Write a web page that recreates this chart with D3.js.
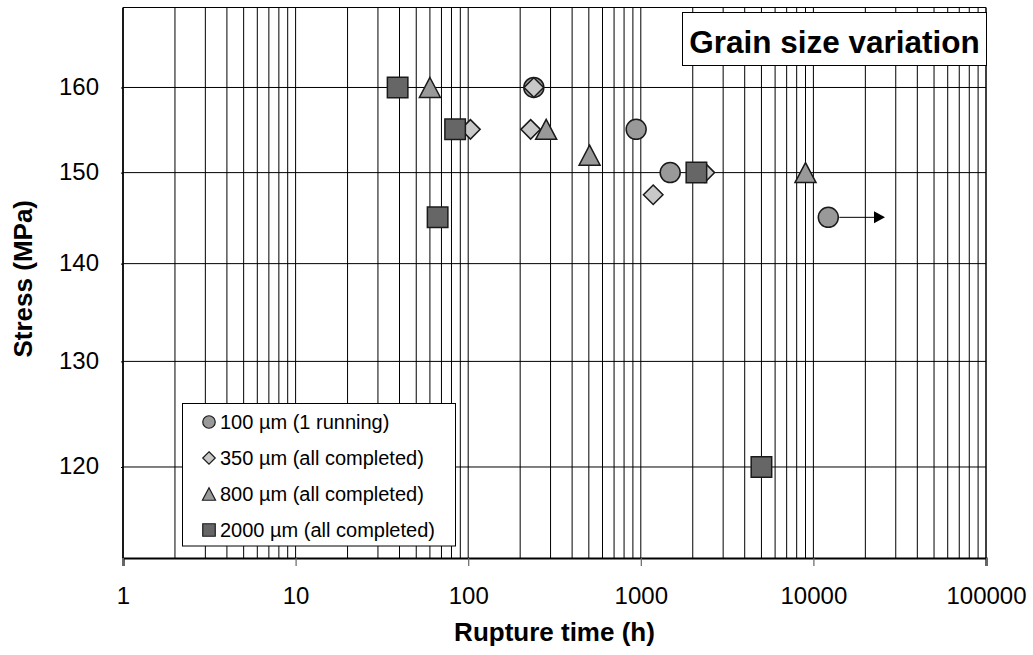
<!DOCTYPE html>
<html>
<head>
<meta charset="utf-8">
<script src="https://cdn.jsdelivr.net/npm/d3@7"></script>
<style>
  body { margin: 0; background: #fff; }
  svg { display: block; }
  text { font-family: "Liberation Sans", Arial, sans-serif; fill: #000; }
</style>
</head>
<body>
<svg id="chart" width="1033" height="655"></svg>
<script>
// Creep rupture data: stress (MPa) vs. rupture time (h) by grain size
const seriesLabels = [
  "100 µm (1 running)",
  "350 µm (all completed)",
  "800 µm (all completed)",
  "2000 µm (all completed)"
];

const rupture100 = [240, 940, 1480, 12200];
const stress100  = [160, 155, 150, 145];

const rupture350 = [240, 103, 230, 1180, 2350];
const stress350  = [160, 155, 155, 147.5, 150];

const rupture800 = [60, 283, 505, 9000];
const stress800  = [160, 155, 152, 150];

const rupture2000 = [39, 84, 66.5, 2100, 5000];
const stress2000  = [160, 155, 145, 150, 120];

// the 100 µm test still running at 145 MPa
const runningTest = { from: 12200, to: 26000, stress: 145 };

const xTickValues = [1, 10, 100, 1000, 10000, 100000];
const yTickValues = [120, 130, 140, 150, 160];

const titleText = "Grain size variation";
const xTitle = "Rupture time (h)";
const yTitle = "Stress (MPa)";

// ---------------------------------------------------------------
const svg = d3.select("#chart");
const plot = { left: 123, right: 986, top: 7.5, bottom: 558 };

const x = d3.scaleLog().domain([1, 100000]).range([plot.left, plot.right]);
const y = d3.scaleLog().domain([112, 170]).range([plot.bottom, plot.top]);

// vertical grid: every 1..9 × decade
const xGrid = [];
for (let d = 1; d < 100000; d *= 10) {
  for (let m = 1; m <= 9; m++) if (!(d === 1 && m === 1)) xGrid.push(d * m);
}
svg.append("g").selectAll("line").data(xGrid).join("line")
  .attr("x1", d => x(d)).attr("x2", d => x(d))
  .attr("y1", plot.top).attr("y2", plot.bottom)
  .attr("stroke", "#000").attr("stroke-width", 1);

// horizontal grid
svg.append("g").selectAll("line").data(yTickValues).join("line")
  .attr("x1", plot.left).attr("x2", plot.right)
  .attr("y1", d => y(d)).attr("y2", d => y(d))
  .attr("stroke", "#000").attr("stroke-width", 1);

// frame
svg.append("line").attr("x1", plot.left).attr("x2", plot.right)
  .attr("y1", plot.top).attr("y2", plot.top).attr("stroke", "#000").attr("stroke-width", 1);
svg.append("line").attr("x1", plot.right).attr("x2", plot.right)
  .attr("y1", plot.top).attr("y2", plot.bottom).attr("stroke", "#000").attr("stroke-width", 1.5);
svg.append("line").attr("x1", plot.left).attr("x2", plot.left)
  .attr("y1", plot.top).attr("y2", plot.bottom).attr("stroke", "#000").attr("stroke-width", 1.8);

// x axis
const xAxis = d3.axisBottom(x).tickValues(xTickValues)
  .tickFormat(d3.format("d")).tickSize(8).tickPadding(22);
const gx = svg.append("g").attr("transform", `translate(0,${plot.bottom})`).call(xAxis);
gx.select(".domain").attr("stroke", "#000").attr("stroke-width", 2.2);
gx.selectAll(".tick line").attr("stroke", "#666").attr("stroke-width", 1.2);
gx.selectAll(".tick text").attr("font-size", 24).attr("font-family", "Liberation Sans, Arial, sans-serif")
  .attr("fill", "#000").attr("dy", 0).attr("y", 46);

// y axis labels
const yAxis = d3.axisLeft(y).tickValues(yTickValues)
  .tickFormat(d3.format("d")).tickSize(2).tickPadding(22);
const gy = svg.append("g").attr("transform", `translate(${plot.left},0)`).call(yAxis);
gy.select(".domain").remove();
gy.selectAll(".tick line").attr("stroke", "#000");
gy.selectAll(".tick text").attr("font-size", 24).attr("font-family", "Liberation Sans, Arial, sans-serif")
  .attr("fill", "#000").attr("dy", 7).attr("x", -24);

// axis titles
svg.append("text").attr("x", (plot.left + plot.right) / 2).attr("y", 641)
  .attr("text-anchor", "middle").attr("font-size", 26).attr("font-weight", "bold").text(xTitle);
svg.append("text").attr("transform", `translate(32,${(plot.top + plot.bottom) / 2 - 4}) rotate(-90)`)
  .attr("text-anchor", "middle").attr("font-size", 26).attr("font-weight", "bold").text(yTitle);

// marker shapes
const shapes = {
  circle: s => { const r = s / 2; return `M${-r},0A${r},${r} 0 1,0 ${r},0A${r},${r} 0 1,0 ${-r},0Z`; },
  diamond: s => { const h = s / 2; return `M0,${-h}L${h},0L0,${h}L${-h},0Z`; },
  triangle: s => { const h = s / 2; return `M0,${-h}L${h * 1.05},${h}L${-h * 1.05},${h}Z`; },
  square: s => { const h = s / 2; return `M${-h},${-h}H${h}V${h}H${-h}Z`; }
};

const seriesDefs = [
  { times: rupture100,  stress: stress100,  shape: "circle",   fill: "#999999", size: 20 },
  { times: rupture350,  stress: stress350,  shape: "diamond",  fill: "#c8c8c8", size: 19.5 },
  { times: rupture800,  stress: stress800,  shape: "triangle", fill: "#999999", size: 20 },
  { times: rupture2000, stress: stress2000, shape: "square",   fill: "#666666", size: 20.5 }
];

seriesDefs.forEach(s => {
  const pts = s.times.map((t, i) => [t, s.stress[i]]);
  svg.append("g").selectAll("path").data(pts).join("path")
    .attr("transform", d => `translate(${x(d[0])},${y(d[1])})`)
    .attr("d", shapes[s.shape](s.size))
    .attr("fill", s.fill).attr("stroke", "#1a1a1a").attr("stroke-width", 1.5);
});

// arrow for the running test
const ay = y(runningTest.stress);
const ax0 = x(runningTest.from) + 11;
const ax1 = x(runningTest.to);
svg.append("line").attr("x1", ax0).attr("x2", ax1 - 10).attr("y1", ay).attr("y2", ay)
  .attr("stroke", "#000").attr("stroke-width", 1);
svg.append("path").attr("d", `M${ax1},${ay}L${ax1 - 11},${ay - 6}L${ax1 - 11},${ay + 6}Z`).attr("fill", "#000");

// legend
const lg = svg.append("g");
lg.append("rect").attr("x", 182.5).attr("y", 403.5).attr("width", 273).attr("height", 142.5)
  .attr("fill", "#fff").attr("stroke", "#000").attr("stroke-width", 1);
seriesDefs.forEach((s, i) => {
  const cy = 422 + i * 36;
  lg.append("path").attr("transform", `translate(209,${cy})`)
    .attr("d", shapes[s.shape](12.5))
    .attr("fill", s.fill).attr("stroke", "#1a1a1a").attr("stroke-width", 1.2);
  lg.append("text").attr("x", 220).attr("y", cy + 7).attr("font-size", 20).text(seriesLabels[i]);
});

// title box
const tg = svg.append("g");
tg.append("rect").attr("x", 682.5).attr("y", 12.5).attr("width", 304).attr("height", 53)
  .attr("fill", "#fff").attr("stroke", "#000").attr("stroke-width", 1);
tg.append("text").attr("x", 834.5).attr("y", 53).attr("text-anchor", "middle")
  .attr("font-size", 31.5).attr("font-weight", "bold").text(titleText);
</script>
</body>
</html>
